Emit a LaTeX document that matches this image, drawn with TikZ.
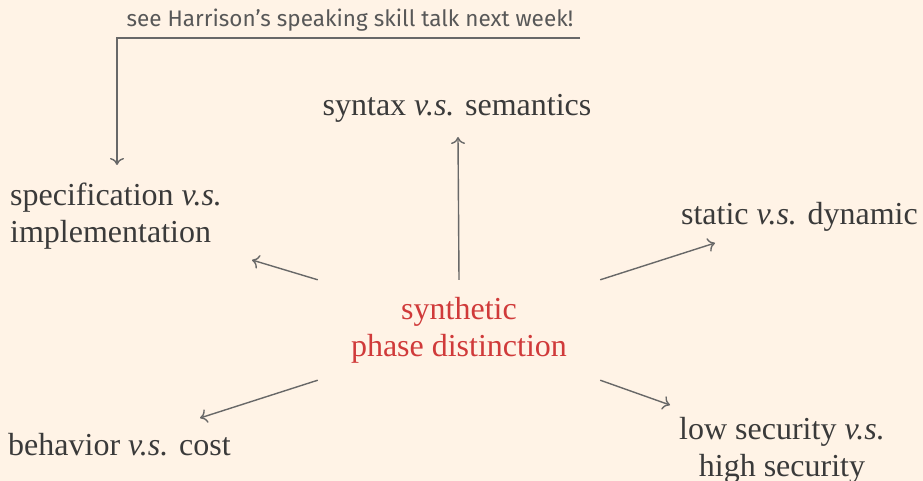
\documentclass[tikz,border=0pt]{standalone}
\usepackage{fontspec}
\setmainfont{Liberation Serif}
\newfontfamily\notefont{Fira Sans}
\usetikzlibrary{arrows.meta}
\definecolor{paper}{HTML}{FFF3E6}
\definecolor{ink}{HTML}{3A3A3A}
\definecolor{accent}{HTML}{D03A3A}
\definecolor{wire}{HTML}{686868}
\definecolor{notegray}{HTML}{585858}

\begin{document}
\begin{tikzpicture}[x=1pt,y=-1pt,
  lbl/.style={text=ink, font=\fontsize{32}{37}\selectfont, inner sep=0pt},
  conn/.style={draw=wire, line width=1.4pt, -{To[length=7pt,width=14pt]}}
]
\fill[paper] (0,0) rectangle (923,481);
\useasboundingbox (0,0) rectangle (923,481);

% heading note
\node[text=notegray, inner sep=0pt, anchor=base,
      font=\notefont\fontsize{22.5}{26}\selectfont] (note) at (350,27)
  {see Harrison’s speaking skill talk next week!};

% central notion
\node[text=accent, font=\fontsize{32}{37}\selectfont, align=center,
      minimum width=282pt, minimum height=100pt, inner sep=0pt] (hub) at (459,330)
  {synthetic\\phase distinction};

% surrounding distinctions
\node[lbl, anchor=base] (syn) at (457,116) {syntax \emph{v.s.} semantics};
\node[lbl, align=left, anchor=west] (spec) at (10,216) {specification \emph{v.s.}\\implementation};
\node[lbl, anchor=base east] (stat) at (918,224) {static \emph{v.s.} dynamic};
\node[lbl, anchor=base west] (beh) at (8,455) {behavior \emph{v.s.} cost};
\node[lbl, align=center] (sec) at (782,450) {low security \emph{v.s.}\\high security};

% arrow end points
\coordinate (brk) at (580,38);
\coordinate (tipSpec) at (117,165);
\coordinate (tipSyn) at (458,137);
\coordinate (tipImpl) at (252,260);
\coordinate (tipStat) at (715,243);
\coordinate (tipBeh) at (200,418);
\coordinate (tipSec) at (670,405);

\draw[conn] (brk) -| (tipSpec);
\draw[conn] (hub.north) -- (tipSyn);
\draw[conn] (hub.north west) -- (tipImpl);
\draw[conn] (hub.north east) -- (tipStat);
\draw[conn] (hub.south west) -- (tipBeh);
\draw[conn] (hub.south east) -- (tipSec);
\end{tikzpicture}
\end{document}
